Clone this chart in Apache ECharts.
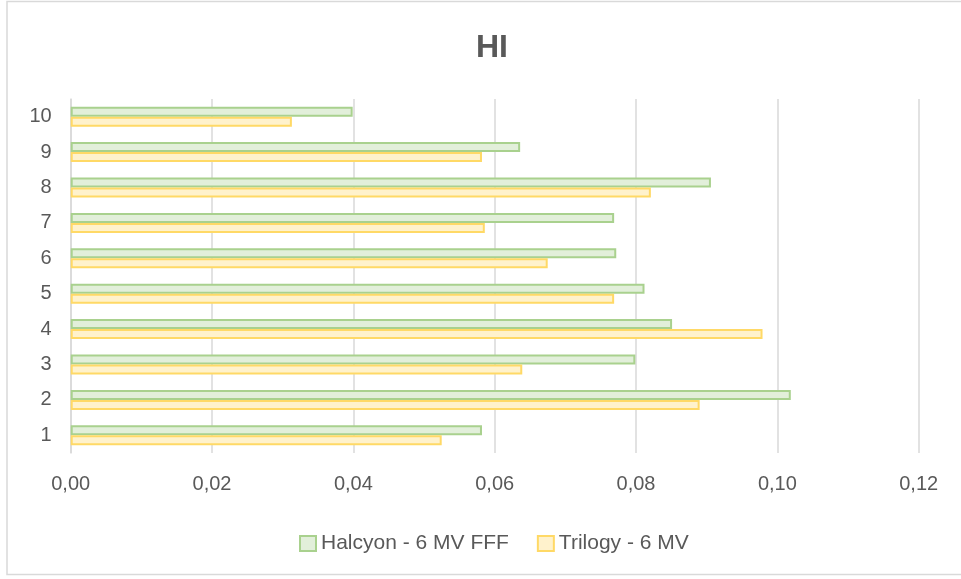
<!DOCTYPE html>
<html>
<head>
<meta charset="utf-8">
<title>HI</title>
<script src="https://cdn.jsdelivr.net/npm/echarts@6/dist/echarts.min.js"></script>
<style>
  html, body { margin: 0; padding: 0; background: #ffffff; }
  #chart { width: 961px; height: 579px; }
</style>
</head>
<body>
<div id="chart"></div>
<script>
// Cases 1..10, HI per plan
const categories = ['1', '2', '3', '4', '5', '6', '7', '8', '9', '10'];
const halcyon = [0.0582, 0.1019, 0.0799, 0.0851, 0.0812, 0.0772, 0.0769, 0.0906, 0.0636, 0.0399];
const trilogy = [0.0525, 0.0890, 0.0639, 0.0979, 0.0769, 0.0675, 0.0586, 0.0821, 0.0582, 0.0313];
const xTicks = [0, 0.02, 0.04, 0.06, 0.08, 0.10, 0.12];

const FONT = '"Liberation Sans", Arial, sans-serif';
const TEXT = '#595959';

const chart = echarts.init(document.getElementById('chart'), null, { renderer: 'canvas' });

chart.setOption({
  backgroundColor: '#ffffff',
  animation: false,
  title: {
    text: 'HI',
    left: 487,
    top: 27,
    textAlign: 'center',
    textStyle: { fontFamily: FONT, fontSize: 32, fontWeight: 'bold', color: TEXT }
  },
  legend: {
    left: 294,
    top: 528,
    itemWidth: 16,
    itemHeight: 15,
    itemGap: 28,
    textStyle: { fontFamily: FONT, fontSize: 21, color: TEXT, padding: [0, 0, 0, 0] },
    data: [
      { name: 'Halcyon - 6 MV FFF', icon: 'rect' },
      { name: 'Trilogy - 6 MV', icon: 'rect' }
    ]
  },
  grid: { left: 70.7, right: 42.3, top: 99, bottom: 126, containLabel: false },
  xAxis: {
    type: 'value',
    min: xTicks[0],
    max: xTicks[xTicks.length - 1],
    interval: 0.02,
    axisLine: { show: false },
    axisTick: { show: false },
    splitLine: { lineStyle: { color: '#D9D9D9', width: 1.5 } },
    axisLabel: {
      margin: 21,
      fontFamily: FONT,
      fontSize: 20,
      color: TEXT,
      formatter: v => v.toFixed(2).replace('.', ',')
    }
  },
  yAxis: {
    type: 'category',
    data: categories,
    axisLine: { show: true, lineStyle: { color: '#D9D9D9', width: 1.5 } },
    axisTick: { show: false },
    axisLabel: { margin: 19, fontFamily: FONT, fontSize: 20, color: TEXT }
  },
  series: [
    {
      name: 'Halcyon - 6 MV FFF',
      type: 'bar',
      data: halcyon,
      barWidth: 10,
      barGap: '0%',
      itemStyle: { color: '#E2EFDA', borderColor: '#A9D18E', borderWidth: 2 }
    },
    {
      name: 'Trilogy - 6 MV',
      type: 'bar',
      data: trilogy,
      barWidth: 10,
      itemStyle: { color: '#FFF2CC', borderColor: '#FFD966', borderWidth: 2 }
    }
  ],
  graphic: [
    {
      type: 'rect',
      silent: true,
      shape: { x: 7, y: 1.5, width: 970, height: 573 },
      style: { fill: 'none', stroke: '#D9D9D9', lineWidth: 1.5 }
    }
  ]
});
</script>
</body>
</html>
